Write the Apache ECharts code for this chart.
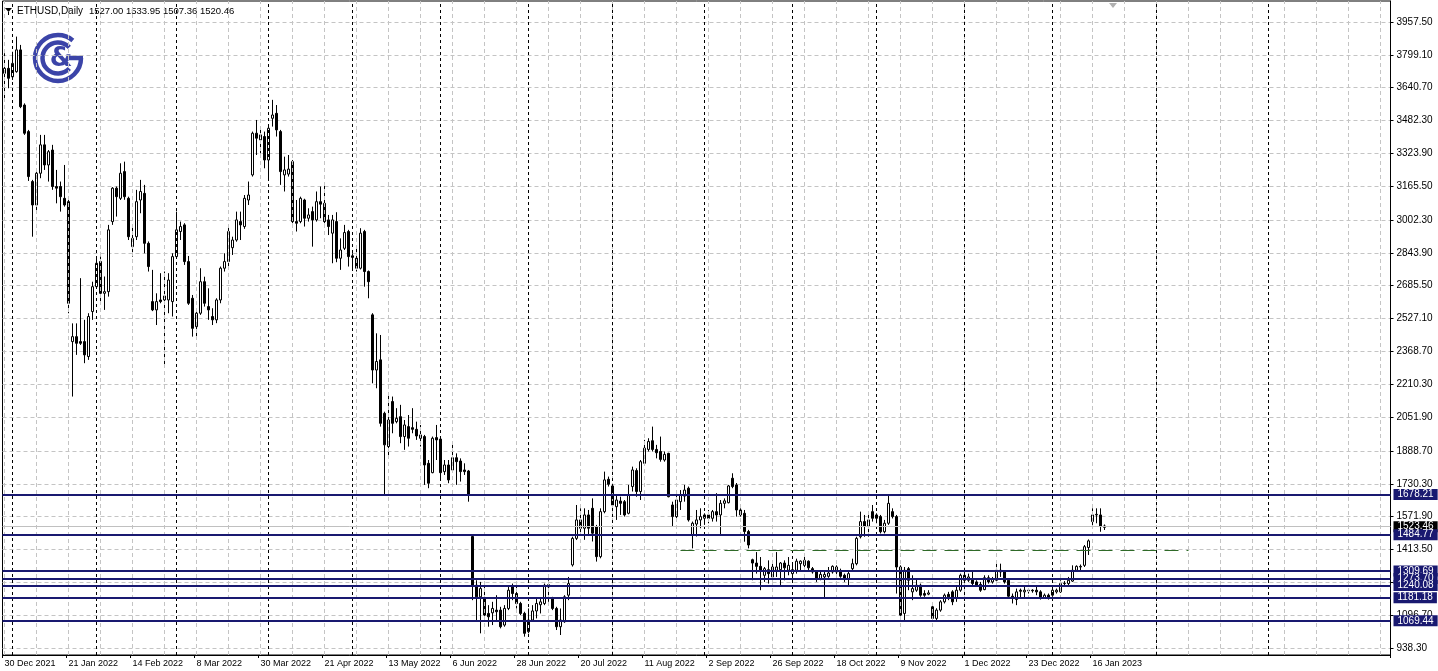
<!DOCTYPE html>
<html><head><meta charset="utf-8">
<script src="https://cdn.jsdelivr.net/npm/echarts@6/dist/echarts.min.js"></script>
<style>html,body{margin:0;padding:0;background:#fff;}#c{width:1438px;height:671px;}</style>
</head><body><div id="c"></div>
<script>
// ---- data: daily bars [open, high, low, close], weekdays only ----
const startDate = '2021-12-30';
const dec2021 = [[3710,3807,3582,3734],[3734,3775,3638,3686]];
const jan2022 = [[3693,3814,3678,3758],[3718,3887,3713,3823],[3823,3847,3542,3549],[3557,3565,3413,3421],[3429,3437,3191,3212],[3188,3196,2922,3075],[3075,3244,3043,3228],[3228,3413,3204,3365],[3365,3413,3244,3268],[3268,3340,3188,3332],[3340,3365,3148,3164],[3164,3244,3083,3156],[3164,3188,3043,3115],[3107,3268,3067,3075],[3091,3100,2553,2601],[2416,2504,2151,2440],[2440,2504,2352,2408],[2416,2722,2400,2408],[2416,2521,2312,2352],[2344,2553,2328,2537],[2561,2705,2521,2681]];
const feb2022 = [[2681,2826,2673,2794],[2802,2826,2601,2649],[2649,2730,2569,2657],[2657,2979,2633,2955],[2995,3161,2979,3156],[3156,3164,3019,3115],[3107,3276,3099,3228],[3236,3284,3100,3115],[3107,3115,2906,2922],[2874,2971,2826,2914],[2922,3148,2906,3091],[3099,3196,3035,3140],[3131,3172,2842,2890],[2890,2899,2754,2778],[2609,2762,2563,2569],[2569,2649,2496,2609],[2617,2746,2601,2609],[2617,2754,2296,2636],[2617,2746,2553,2713],[2609,2842,2537,2826]];
const mar2022 = [[2826,3043,2818,2955],[2947,2995,2906,2971],[2979,2987,2786,2802],[2802,2829,2593,2601],[2625,2641,2440,2480],[2488,2577,2440,2553],[2553,2770,2545,2705],[2705,2729,2585,2601],[2585,2673,2521,2569],[2537,2577,2496,2521],[2521,2625,2505,2617],[2617,2778,2601,2770],[2770,2842,2754,2802],[2802,2979,2762,2947],[2869,2922,2834,2906],[2906,3043,2898,3003],[2995,3043,2906,2979],[2971,3123,2960,3107],[3099,3188,3075,3123],[3220,3429,3212,3421],[3421,3485,3316,3397],[3389,3453,3324,3413],[3405,3429,3252,3292]];
const apr2022 = [[3292,3453,3196,3445],[3493,3582,3453,3509],[3517,3557,3405,3437],[3429,3437,3172,3236],[3220,3308,3140,3244],[3224,3316,3212,3248],[3284,3292,2987,2995],[2995,3099,2947,2987],[2995,3115,2987,3107],[3099,3105,2971,3011],[3011,3059,2995,3027],[3043,3067,2874,3003],[3003,3140,2995,3091],[3091,3164,3011,3079],[3083,3172,2987,2995],[3003,3027,2930,2971],[2939,3027,2794,3003],[2995,3040,2799,2818],[2818,2914,2762,2858],[2866,2979,2858,2942],[2947,2955,2778,2826]];
const may2022 = [[2822,2842,2762,2830],[2818,2879,2754,2770],[2770,2963,2764,2939],[2947,2955,2681,2754],[2754,2759,2625,2705],[2545,2553,2215,2279],[2279,2456,2191,2320],[2328,2448,2006,2022],[2070,2078,1677,1918],[1910,2159,1861,2038],[2127,2151,1974,2022],[2030,2095,2022,2046],[2054,2111,1926,1958],[1958,2038,1894,2014],[2006,2062,1910,1950],[2001,2095,1974,1993],[1993,2030,1942,1961],[1966,2014,1910,1950],[1958,1966,1725,1821],[1829,1845,1709,1733],[1784,1958,1781,1950],[1953,2014,1845,1942]];
const jun2022 = [[1946,1950,1749,1784],[1789,1845,1773,1821],[1821,1845,1733,1749],[1797,1918,1789,1856],[1856,1877,1725,1837],[1840,1853,1741,1789],[1797,1829,1773,1789],[1792,1797,1644,1676],[1476,1484,1169,1241],[1241,1265,1073,1185],[1185,1257,1009,1225],[1177,1257,1073,1097],[1105,1145,1041,1089],[1108,1161,1049,1129],[1121,1193,1073,1113],[1121,1137,1033,1041],[1049,1145,1041,1129],[1129,1241,1121,1217],[1236,1249,1169,1201],[1201,1241,1129,1153],[1153,1161,1097,1105],[1105,1113,993,1009]];
const jul2022 = [[1017,1129,1009,1073],[1073,1145,1065,1117],[1117,1177,1081,1153],[1147,1177,1105,1161],[1153,1249,1145,1241],[1233,1265,1161,1244],[1177,1185,1121,1129],[1129,1137,1025,1041],[1041,1129,1001,1073],[1065,1193,1060,1185],[1193,1281,1169,1249],[1339,1475,1331,1467],[1467,1628,1459,1556],[1556,1612,1484,1516],[1516,1612,1460,1580],[1580,1604,1484,1516],[1612,1660,1452,1492],[1524,1532,1355,1379],[1379,1612,1371,1596],[1596,1789,1588,1749],[1752,1765,1717,1728]];
const aug2022 = [[1720,1733,1604,1628],[1620,1676,1556,1652],[1647,1668,1580,1636],[1644,1652,1572,1580],[1588,1725,1583,1676],[1717,1813,1693,1797],[1794,1805,1668,1693],[1693,1845,1652,1837],[1829,1942,1821,1902],[1896,1950,1886,1934],[1938,2006,1886,1896],[1896,1918,1853,1880],[1886,1958,1837,1848],[1845,1886,1837,1872],[1877,1880,1665,1668],[1628,1644,1524,1572],[1572,1676,1556,1652],[1644,1700,1604,1676],[1671,1725,1644,1700],[1709,1717,1548,1556],[1483,1548,1419,1540],[1536,1604,1476,1556],[1556,1612,1516,1572]];
const sep2022 = [[1564,1588,1532,1580],[1580,1604,1540,1564],[1564,1604,1548,1596],[1596,1685,1548,1580],[1580,1652,1484,1636],[1636,1660,1612,1648],[1639,1725,1636,1720],[1757,1781,1709,1717],[1725,1734,1572,1604],[1604,1612,1572,1580],[1588,1604,1451,1500],[1500,1508,1419,1435],[1364,1369,1265,1348],[1348,1401,1297,1332],[1332,1377,1217,1313],[1289,1329,1257,1321],[1316,1361,1249,1297],[1281,1353,1265,1329],[1313,1401,1281,1329],[1316,1353,1241,1348],[1348,1361,1265,1325],[1313,1377,1289,1337]];
const oct2022 = [[1297,1353,1257,1316],[1313,1369,1297,1357],[1345,1361,1313,1357],[1337,1385,1313,1361],[1357,1361,1313,1325],[1321,1329,1297,1305],[1305,1313,1257,1273],[1273,1305,1265,1293],[1281,1305,1177,1293],[1284,1329,1277,1300],[1305,1337,1297,1332],[1329,1337,1289,1305],[1305,1321,1277,1284],[1289,1297,1257,1273],[1273,1305,1241,1297],[1321,1369,1313,1345],[1345,1475,1337,1467],[1475,1596,1467,1548],[1548,1580,1475,1524],[1524,1588,1475,1556],[1596,1628,1548,1564]];
const nov2022 = [[1580,1588,1540,1564],[1572,1580,1491,1499],[1499,1556,1491,1540],[1540,1676,1532,1636],[1596,1612,1563,1572],[1572,1580,1201,1329],[1329,1337,1081,1097],[1105,1329,1065,1313],[1321,1329,1217,1265],[1209,1289,1169,1225],[1217,1273,1209,1241],[1241,1249,1185,1193],[1201,1217,1185,1193],[1198,1217,1193,1204],[1137,1145,1073,1081],[1081,1130,1073,1121],[1121,1169,1113,1161],[1161,1201,1153,1193],[1197,1209,1169,1185],[1209,1217,1145,1161],[1177,1233,1161,1217],[1217,1297,1209,1289]];
const dec2022 = [[1289,1313,1257,1265],[1265,1297,1257,1281],[1273,1305,1241,1249],[1257,1265,1233,1241],[1245,1257,1209,1217],[1220,1289,1217,1277],[1277,1289,1249,1257],[1257,1281,1249,1273],[1265,1353,1257,1313],[1313,1345,1281,1305],[1309,1313,1249,1257],[1265,1273,1177,1188],[1188,1201,1153,1177],[1172,1225,1145,1209],[1217,1225,1177,1212],[1209,1233,1177,1217],[1214,1225,1201,1217],[1217,1222,1205,1214],[1217,1233,1193,1209],[1209,1217,1172,1177],[1181,1201,1177,1193],[1193,1201,1172,1181]];
const jan2023 = [[1193,1225,1185,1217],[1209,1225,1201,1217],[1209,1265,1204,1249],[1249,1261,1233,1251],[1249,1281,1241,1265],[1261,1337,1257,1313],[1313,1337,1305,1332],[1329,1341,1313,1332],[1337,1435,1329,1427],[1423,1462,1387,1455],[1548,1612,1516,1580],[1580,1612,1540,1583],[1580,1612,1499,1524],[1527.00,1533.95,1507.36,1520.46]];

const yTicks = [938.30,1096.70,1255.10,1413.50,1571.90,1730.30,1888.70,2051.90,2210.30,2368.70,2527.10,2685.50,2843.90,3002.30,3165.50,3323.90,3482.30,3640.70,3799.10,3957.50];
const levels = [1678.21,1484.77,1309.69,1273.70,1240.08,1181.18,1069.44];
const lastPrice = 1523.46;
const dashLevel = 1412;
const headerName = 'ETHUSD,Daily';
const headerOHLC = '1527.00 1533.95 1507.36 1520.46';

// ---- build ----
const bars = [].concat(dec2021,jan2022,feb2022,mar2022,apr2022,may2022,jun2022,jul2022,aug2022,sep2022,oct2022,nov2022,dec2022,jan2023);
const lastIdx = bars.length - 1;
const totalSlots = 347;
const MON = ['Jan','Feb','Mar','Apr','May','Jun','Jul','Aug','Sep','Oct','Nov','Dec'];
const cats = [];
let d = new Date(startDate + 'T00:00:00Z');
while (cats.length < totalSlots) {
  const wd = d.getUTCDay();
  if (cats.length > lastIdx || (wd !== 0 && wd !== 6)) cats.push(d.toISOString().slice(0,10));
  d = new Date(d.getTime() + 86400000);
}
function fmtDate(s){ const p=s.split('-'); return (+p[2])+' '+MON[+p[1]-1]+' '+p[0]; }
const monthStarts = [];
for (let i=1;i<cats.length;i++){ if (cats[i].slice(5,7)!==cats[i-1].slice(5,7)) monthStarts.push(i); }
const gridIdx = [];
for (let i=0;i<cats.length;i+=8) gridIdx.push(i);

const candleData = bars.map(b => [b[0], b[3], b[2], b[1]]);
const NAVY = '#191970';
const FONT = '"Liberation Sans", Arial, sans-serif';
const yMin = 904.54, yMax = 4058.78;

const chart = echarts.init(document.getElementById('c'), null, {renderer:'canvas'});
const labelIdx = (i) => i % 16 === 0 && i <= lastIdx;
chart.setOption({
  animation: false,
  backgroundColor: '#fff',
  grid: {left: 2.5, right: 47.5, top: 1, bottom: 16, show: true, borderColor: '#000', borderWidth: 1, backgroundColor: '#fff'},
  xAxis: {
    type: 'category', data: cats, boundaryGap: true,
    axisLine: {show: true, lineStyle: {color: '#000', width: 1}},
    axisTick: {show: true, interval: labelIdx, length: 3, lineStyle: {color: '#000'}},
    axisLabel: {interval: labelIdx, formatter: v => fmtDate(v), align: 'left', color: '#000', fontSize: 9, fontFamily: FONT, margin: 4},
    splitLine: {show: false}
  },
  yAxis: {
    type: 'value', position: 'right', min: yMin, max: yMax,
    axisLine: {show: true, lineStyle: {color: '#000'}},
    axisTick: {show: true, customValues: yTicks, length: 3, lineStyle: {color: '#000'}},
    axisLabel: {customValues: yTicks, formatter: v => v.toFixed(2), color: '#000', fontSize: 10, fontFamily: FONT, margin: 6},
    splitLine: {show: true, lineStyle: {color: '#c4c4c4', type: [4,3], width: 1}}
  },
  graphic: [
    {type:'polygon', shape:{points:[[5,8],[12,8],[8.5,12]]}, style:{fill:'#000'}},
    {type:'line', shape:{x1:8.5,y1:12,x2:8.5,y2:15}, style:{stroke:'#000',lineWidth:1}},
    {type:'text', left: 17, top: 6, style:{text: headerName, font: '10px ' + FONT, fill:'#000'}},
    {type:'text', left: 89, top: 6, style:{text: headerOHLC, font: '9.5px ' + FONT, fill:'#000'}},
    {type:'polygon', shape:{points:[[1109,3],[1117,3],[1113,8]]}, style:{fill:'#b0b0b0'}},
    {type:'arc', shape:{cx:58,cy:58,r:23,startAngle:0,endAngle:-0.87,clockwise:true}, style:{stroke:'#3b44a8',lineWidth:4.5,fill:null}},
    {type:'arc', shape:{cx:58,cy:58,r:15.5,startAngle:0.75,endAngle:5.53,clockwise:true}, style:{stroke:'#3b44a8',lineWidth:4.5,fill:null}},
    {type:'line', shape:{x1:67,y1:58,x2:83,y2:58}, style:{stroke:'#3b44a8',lineWidth:4.5}},
    {type:'text', x:61, y:59, style:{text:'&', font:'bold 26px "DejaVu Sans"', fill:'#3b44a8', align:'center', verticalAlign:'middle'}}
  ],
  series: [
    {type:'line', data:[], z:1, silent:true,
      markLine:{silent:true, symbol:'none', animation:false, label:{show:false},
        lineStyle:{color:'#c4c4c4', type:[4,3], width:1},
        data: gridIdx.map(i => ({xAxis: cats[i]}))}},
    {type:'line', data:[], z:1, silent:true,
      markLine:{silent:true, symbol:'none', animation:false, label:{show:false},
        lineStyle:{color:'#000', type:[3,3], width:1},
        data: monthStarts.map(i => ({xAxis: cats[i]}))}},
    {type:'candlestick', data: candleData, z:3, barWidth: 2, silent:true,
      itemStyle:{color:'#fff', color0:'#000', borderColor:'#000', borderColor0:'#000', borderWidth:1}},
    {type:'line', data:[], z:5, silent:true, clip:false,
      markLine:{silent:true, symbol:'none', animation:false,
        data: [
          {yAxis: lastPrice, lineStyle:{color:'#c0c0c0', type:'solid', width:1},
            label:{show:true, position:'end', distance:3, formatter: p => p.value.toFixed(2), color:'#fff', backgroundColor:'#000', padding:[1,4,0,4], fontSize:10, fontFamily:FONT}},
          [{coord:[cats[169], dashLevel], lineStyle:{color:'#2f6a28', type:[14,8], width:1}, label:{show:false}}, {coord:[cats[296], dashLevel]}]
        ].concat(levels.map(v => ({yAxis: v, lineStyle:{color:NAVY, type:'solid', width:2},
            label:{show:true, position:'end', distance:3, formatter: p => p.value.toFixed(2), color:'#fff', backgroundColor:NAVY, padding:[1,4,0,4], fontSize:10, fontFamily:FONT}})))
      }}
  ]
});
</script></body></html>
